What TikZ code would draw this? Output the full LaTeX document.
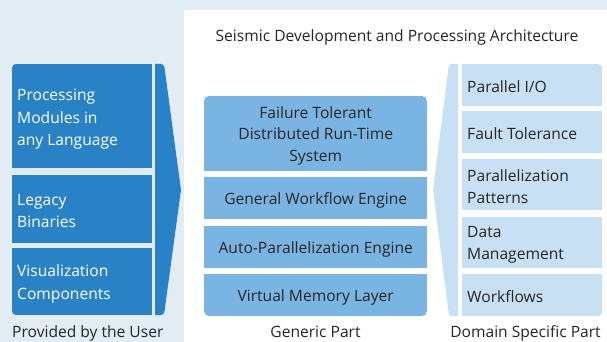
\documentclass[tikz,border=0pt]{standalone}
\usepackage{fontspec}
\setmainfont{Open Sans}
\definecolor{bgc}{HTML}{E2ECF4}
\definecolor{dblue}{HTML}{2A82C6}
\definecolor{mblue}{HTML}{7AB4E2}
\definecolor{lblue}{HTML}{C8E0F3}
\definecolor{txt}{HTML}{262626}
\newcommand{\fsz}[1]{\fontsize{15.6}{#1}\selectfont}
\begin{document}
\begin{tikzpicture}[x=1pt,y=-1pt,
  lab/.style={font=\fsz{22}, text=txt, inner sep=0pt},
  ubox/.style={fill=dblue, inner sep=0pt, minimum width=140pt},
  gbox/.style={fill=mblue, inner sep=0pt, minimum width=223pt},
  dbox/.style={fill=lblue, inner sep=0pt, minimum width=140pt},
  utext/.style={anchor=west, align=left, inner sep=0pt, font=\fsz{22.5}},
]
\useasboundingbox (0,0) rectangle (607,342);
\fill[bgc] (0,0) rectangle (607,342);
\fill[white] (184,342) -- (184,10) [rounded corners=5pt] -- (612,10) -- (612,342) -- cycle;
\fill[white] (184,342) rectangle (607,330);
\node[lab, anchor=base] (title) at (397,42) {Seismic Development and Processing Architecture};

% user part
\begin{scope}
\clip[rounded corners=4pt] (12,64) rectangle (200,315);
\node[ubox, minimum height=104pt, anchor=north west] (u1) at (12,64) {};
\node[ubox, minimum height=68pt, anchor=north west] (u2) at (12,175) {};
\node[ubox, minimum height=67pt, anchor=north west] (u3) at (12,248) {};
\end{scope}
\node[utext, text=white] (u1t) at (17,119.5) {Processing\\Modules in\\any Language};
\node[utext, text=white] (u2t) at (17,211) {Legacy\\Binaries};
\node[utext, text=white] (u3t) at (17,284) {Visualization\\Components};
\fill[dblue] (155,64) [rounded corners=3pt] -- (164,64) [rounded corners=1.5pt] -- (181,190) [rounded corners=3pt] -- (164,315) [sharp corners] -- (155,315) -- cycle;
\node[lab, anchor=base west] (ulab) at (12,337) {Provided by the User};

% generic part
\begin{scope}
\clip[rounded corners=5pt] (204,96) rectangle (427,316);
\node[gbox, minimum height=75pt, anchor=north west] (g1) at (204,96) {};
\node[gbox, minimum height=42pt, anchor=north west] (g2) at (204,177) {};
\node[gbox, minimum height=42pt, anchor=north west] (g3) at (204,226) {};
\node[gbox, minimum height=42pt, anchor=north west] (g4) at (204,274) {};
\end{scope}
\node[lab, align=center, font=\fsz{21.7}] (g1t) at ([yshift=-2pt]g1.center) {Failure Tolerant\\Distributed Run-Time\\System};
\node[lab] (g2t) at ([yshift=-2pt]g2.center) {General Workflow Engine};
\node[lab] (g3t) at ([yshift=-2pt]g3.center) {Auto-Parallelization Engine};
\node[lab] (g4t) at ([yshift=-2pt]g4.center) {Virtual Memory Layer};
\node[lab, anchor=base] (glab) at (315.5,337) {Generic Part};

% domain part
\fill[lblue] (458,64) [rounded corners=3pt] -- (449,64) [rounded corners=1.5pt] -- (433,190) [rounded corners=3pt] -- (449,316) [sharp corners] -- (458,316) -- cycle;
\begin{scope}
\clip (462,64) [rounded corners=4pt] -- (602,64) -- (602,316) [sharp corners] -- (462,316) -- cycle;
\node[dbox, minimum height=42pt, anchor=north west] (d1) at (462,64) {};
\node[dbox, minimum height=42pt, anchor=north west] (d2) at (462,111) {};
\node[dbox, minimum height=51pt, anchor=north west] (d3) at (462,159) {};
\node[dbox, minimum height=51pt, anchor=north west] (d4) at (462,217) {};
\node[dbox, minimum height=42pt, anchor=north west] (d5) at (462,274) {};
\end{scope}
\node[utext, text=txt, font=\fsz{22}] (d1t) at (467,87) {Parallel I/O};
\node[utext, text=txt, font=\fsz{22}] (d2t) at (467,134) {Fault Tolerance};
\node[utext, text=txt, font=\fsz{22}] (d3t) at (467,186.5) {Parallelization\\Patterns};
\node[utext, text=txt, font=\fsz{22}] (d4t) at (467,244.5) {Data\\Management};
\node[utext, text=txt, font=\fsz{22}] (d5t) at (467,297) {Workflows};
\node[lab, anchor=base] (dlab) at (525.5,337) {Domain Specific Part};
\end{tikzpicture}
\end{document}
